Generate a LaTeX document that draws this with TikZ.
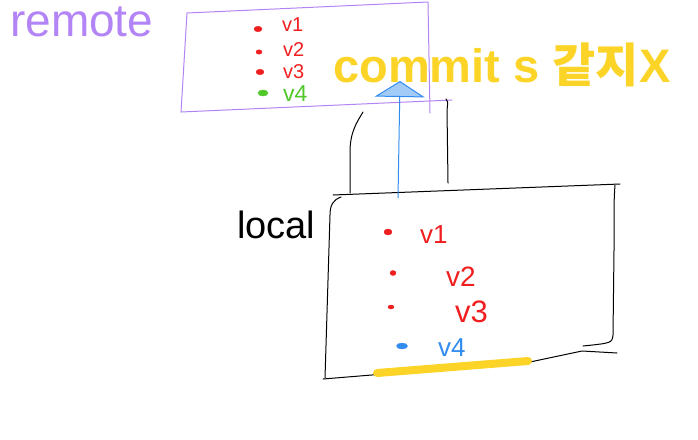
\documentclass[tikz,border=0pt]{standalone}
\usepackage{fontspec}
\setmainfont{Liberation Sans}
\newfontfamily\krfont{Noto Sans CJK KR}
\usetikzlibrary{arrows.meta,shapes.geometric}
\definecolor{remotec}{RGB}{178,132,245}
\definecolor{redc}{RGB}{240,30,30}
\definecolor{greenc}{RGB}{80,200,40}
\definecolor{bluec}{RGB}{50,140,240}
\definecolor{yellowc}{RGB}{252,212,40}
\tikzset{
  sketch/.style={line width=1pt, line cap=round, line join=round},
  dotr/.style={ellipse, inner sep=0pt, minimum width=8pt, minimum height=5.5pt, fill=redc, draw=redc},
  lab/.style={inner sep=0pt, anchor=base west},
}
\begin{document}
\begin{tikzpicture}[x=1pt,y=-1pt]
\useasboundingbox (0,0) rectangle (698,439);
% labels
\node[lab, remotec, font=\fontsize{46}{46}\selectfont] (remote) at (10,36) {remote};
\node[lab, black, font=\fontsize{38}{38}\selectfont] (local) at (237,238) {local};
% remote box
\draw[sketch, remotec] (187,13) -- (428,2) -- (430,113);
\draw[sketch, remotec] (187,13) -- (181,112);
\draw[sketch, remotec] (181,112) -- (452,100);
% remote items
\node[dotr] (r1) at (258,29) {};
\node[dotr, minimum width=6pt, minimum height=4.5pt] (r2) at (259,52) {};
\node[dotr] (r3) at (260,72) {};
\node[dotr, fill=greenc, draw=greenc, minimum width=10pt, minimum height=6pt] (r4) at (263,93) {};
\node[lab, redc, font=\fontsize{20}{20}\selectfont] (rv1) at (282,31) {v1};
\node[lab, redc, font=\fontsize{20}{20}\selectfont] (rv2) at (283,56) {v2};
\node[lab, redc, font=\fontsize{20}{20}\selectfont] (rv3) at (283,78) {v3};
\node[lab, greenc, font=\fontsize{23}{23}\selectfont] (rv4) at (283,101) {v4};
% yellow text
\node[lab, yellowc, font=\bfseries\fontsize{47}{47}\selectfont] (msg) at (333,82) {commit s {\krfont\bfseries 같지}X};
% pipe between boxes
\coordinate (pl1) at (350,193);
\coordinate (pl2) at (363,112);
\coordinate (pr1) at (446,99);
\coordinate (pr2) at (448,183);
\draw[sketch] (pl1) -- (350,152) .. controls (350,132) and (357,122) .. (pl2);
\draw[sketch] (pr1) .. controls (448,101) .. (447,110) -- (pr2);
% local box
\draw[sketch] (333,195) -- (620,184);
\draw[sketch] (341,197) .. controls (333,200) and (330,205) .. (330,215) -- (325,378);
\draw[sketch] (615,185) .. controls (614,200) .. (614,250) -- (613,335) .. controls (612,343) .. (583,346);
\draw[sketch] (323,379) -- (530,362) -- (582,351) -- (617,353);
% local items
\node[dotr, minimum width=8pt, minimum height=6pt] (l1) at (388,232) {};
\node[dotr, minimum width=6pt, minimum height=5pt] (l2) at (393,273) {};
\node[dotr, minimum width=6pt, minimum height=4pt] (l3) at (391,307) {};
\node[dotr, fill=bluec, draw=bluec, minimum width=11pt, minimum height=6pt] (l4) at (402,346) {};
\node[lab, redc, font=\fontsize{26}{26}\selectfont] (lv1) at (420,243) {v1};
\node[lab, redc, font=\fontsize{28}{28}\selectfont] (lv2) at (446,286) {v2};
\node[lab, redc, font=\fontsize{31}{31}\selectfont] (lv3) at (455,322) {v3};
\node[lab, bluec, font=\fontsize{26}{26}\selectfont] (lv4) at (438,356) {v4};
% highlight
\draw[yellowc, line width=8pt, line cap=round] (377,373) -- (528,361);
% blue arrow
\coordinate (as) at (398,198);
\coordinate (ae) at (400,81);
\draw[bluec, line width=1pt, -{Triangle[length=16pt, width=50pt, fill=bluec!45, line width=1pt]}] (as) -- (ae);
\end{tikzpicture}
\end{document}
